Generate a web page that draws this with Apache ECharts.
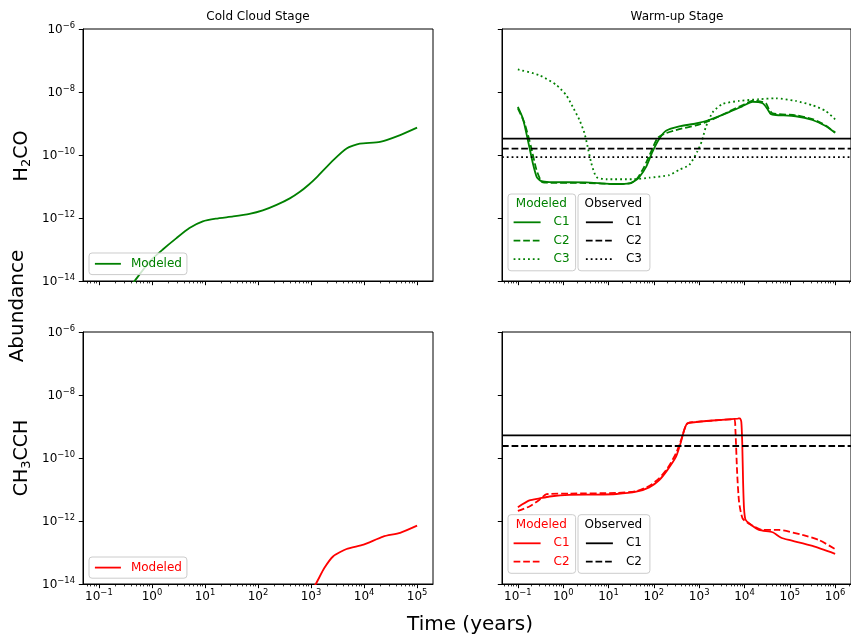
<!DOCTYPE html>
<html>
<head>
<meta charset="utf-8">
<script src="https://cdn.jsdelivr.net/npm/echarts@6/dist/echarts.min.js"></script>
<style>
html,body{margin:0;padding:0;background:#fff;}
#chart{width:851px;height:634px;}
</style>
</head>
<body>
<div id="chart"></div>
<script>
// ---- Cold cloud stage (time in years, abundance relative to H2) ----
const coldH2CO_t = [0.1, 0.25, 0.47, 0.91, 1.6, 2.9, 5.1, 9.1, 16, 34, 69, 123, 224, 398, 617, 891, 1290, 2630, 4680, 8300, 20000, 47900, 100000];
const coldH2CO_y = [2.5e-16, 2.5e-15, 1.0e-14, 4.2e-14, 1.0e-13, 2.3e-13, 4.8e-13, 7.8e-13, 9.5e-13, 1.12e-12, 1.35e-12, 1.74e-12, 2.6e-12, 4.2e-12, 6.8e-12, 1.12e-11, 2.0e-11, 6.9e-11, 1.62e-10, 2.3e-10, 2.6e-10, 4.3e-10, 7.4e-10];

const coldCH3CCH_t = [0.1, 10, 100, 631, 1230, 1780, 2630, 4680, 9800, 22900, 47900, 100000];
const coldCH3CCH_y = [1e-19, 1e-17, 3e-16, 1.6e-15, 1.0e-14, 3.2e-14, 7.6e-14, 1.29e-13, 1.78e-13, 3.2e-13, 4.2e-13, 7.1e-13];

// ---- Warm-up stage, H2CO ----
const warmH2CO_C1_t = [0.1, 0.129, 0.166, 0.214, 0.263, 0.331, 0.5, 3.16, 14.8, 28.8, 40.7, 48, 68, 93, 132, 186, 363, 851, 1660, 4570, 8900, 15100, 25100, 31600, 38000, 49000, 135000, 316000, 617000, 1000000];
const warmH2CO_C1_y = [3.4e-9, 1.45e-9, 3.0e-10, 5.5e-11, 1.95e-11, 1.48e-11, 1.38e-11, 1.35e-11, 1.2e-11, 1.26e-11, 1.62e-11, 2.0e-11, 4.3e-11, 1.26e-10, 3.3e-10, 5.9e-10, 8.1e-10, 1.0e-9, 1.29e-9, 2.3e-9, 3.5e-9, 4.9e-9, 4.4e-9, 3.0e-9, 2.0e-9, 1.86e-9, 1.7e-9, 1.29e-9, 8.3e-10, 5.1e-10];

const warmH2CO_C2_t = [0.1, 0.141, 0.195, 0.257, 0.331, 0.427, 3.16, 15.8, 31.6, 43.7, 61.7, 87, 120, 170, 363, 851, 1660, 4570, 8900, 16200, 29500, 34700, 41700, 135000, 316000, 617000, 1000000];
const warmH2CO_C2_y = [3.0e-9, 1.0e-9, 1.82e-10, 3.4e-11, 1.45e-11, 1.32e-11, 1.29e-11, 1.2e-11, 1.29e-11, 1.86e-11, 4.3e-11, 1.29e-10, 3.4e-10, 4.7e-10, 6.6e-10, 8.7e-10, 1.2e-9, 2.4e-9, 3.8e-9, 5.4e-9, 4.4e-9, 2.8e-9, 2.1e-9, 1.82e-9, 1.38e-9, 8.7e-10, 5.2e-10];

const warmH2CO_C3_t = [0.1, 0.30, 0.71, 1.17, 1.62, 2.29, 2.95, 3.47, 4.17, 5.4, 8.9, 34, 79, 219, 363, 603, 912, 1150, 1410, 2000, 3310, 7600, 20900, 49000, 135000, 316000, 617000, 1000000];
const warmH2CO_C3_y = [5.2e-8, 3.4e-8, 1.66e-8, 7.9e-9, 3.4e-9, 1.29e-9, 4.9e-10, 1.82e-10, 5.5e-11, 2.0e-11, 1.7e-11, 1.7e-11, 1.9e-11, 2.3e-11, 3.4e-11, 4.8e-11, 1.29e-10, 2.8e-10, 7.9e-10, 2.3e-9, 4.2e-9, 5.2e-9, 5.9e-9, 6.3e-9, 5.2e-9, 3.8e-9, 2.5e-9, 1.35e-9];

const obsH2CO = [3.3e-10, 1.6e-10, 8.5e-11];   // C1, C2, C3

// ---- Warm-up stage, CH3CCH ----
const warmCH3CCH_C1_t = [0.1, 0.18, 0.30, 0.5, 1.38, 5.4, 14.8, 41, 79, 132, 200, 309, 398, 468, 550, 851, 2000, 7080, 7940, 8510, 8910, 9330, 9770, 10500, 12600, 20900, 41700, 63000, 95500, 316000, 1000000];
const warmCH3CCH_C1_y = [2.75e-12, 4.5e-12, 5.2e-12, 6.0e-12, 6.8e-12, 6.9e-12, 7.2e-12, 8.5e-12, 1.17e-11, 2.0e-11, 4.2e-11, 1.1e-10, 3.3e-10, 7.8e-10, 1.26e-9, 1.38e-9, 1.55e-9, 1.78e-9, 1.82e-9, 1.41e-9, 3.2e-10, 1.6e-11, 2.5e-12, 1.12e-12, 8.5e-13, 5.2e-13, 4.4e-13, 3.0e-13, 2.5e-13, 1.62e-13, 9.1e-14];

const warmCH3CCH_C2_t = [0.1, 0.18, 0.30, 0.43, 1.38, 14.8, 41, 79, 132, 200, 309, 398, 513, 603, 2000, 5900, 6300, 6900, 7600, 9100, 13800, 25100, 57500, 191000, 437000, 1000000];
const warmCH3CCH_C2_y = [2.1e-12, 2.9e-12, 4.7e-12, 7.1e-12, 7.4e-12, 7.8e-12, 8.9e-12, 1.29e-11, 2.3e-11, 4.7e-11, 1.41e-10, 3.7e-10, 1.1e-9, 1.32e-9, 1.55e-9, 1.7e-9, 7.9e-10, 3.2e-11, 4.0e-12, 1.2e-12, 7.6e-13, 5.2e-13, 5.2e-13, 3.6e-13, 2.5e-13, 1.29e-13];

const obsCH3CCH = [5.2e-10, 2.4e-10];   // C1, C2

// Tick positions
const yMajor = [1e-14, 1e-12, 1e-10, 1e-8, 1e-6];
const xMajorCold = [0.1, 1, 10, 100, 1000, 10000, 100000];
const xMajorWarm = [0.1, 1, 10, 100, 1000, 10000, 100000, 1000000];

// ---- styling / layout ----
const FONT = 'DejaVu Sans';
const GREEN = '#008000';
const RED = '#ff0000';
const LW = 1.8;
const DASH = [6.7, 2.9];
const DOT = [1.8, 3.0];
const X_COLD = [Math.pow(10, -1.3), Math.pow(10, 5.3)];
const X_WARM = [Math.pow(10, -1.35), Math.pow(10, 6.35)];
const Y_RANGE = [1e-14, 1e-6];

function minorTicks(range) {
  const out = [];
  for (let e = -3; e <= 7; e++) {
    for (let m = 2; m <= 9; m++) {
      const v = m * Math.pow(10, e);
      if (v >= range[0] && v <= range[1]) out.push(v);
    }
  }
  return out;
}

function powLabel(v) {
  const e = Math.round(Math.log10(v));
  return '{b|10}{s|' + (e < 0 ? '\u2212' : '') + Math.abs(e) + '}';
}
const tickRich = {
  b: { fontFamily: FONT, fontSize: 12, color: '#000', lineHeight: 14, verticalAlign: 'bottom' },
  s: { fontFamily: FONT, fontSize: 8.4, color: '#000', lineHeight: 6, verticalAlign: 'top' }
};

const grids = [
  { left: 83, top: 29, width: 350, height: 252 },
  { left: 502, top: 29, width: 350, height: 252 },
  { left: 83, top: 332, width: 350, height: 252 },
  { left: 502, top: 332, width: 350, height: 252 }
].map(g => Object.assign(g, { show: true, borderColor: '#000', borderWidth: 1, backgroundColor: 'transparent' }));

const panelX = [
  { range: X_COLD, major: xMajorCold, labels: false },
  { range: X_WARM, major: xMajorWarm, labels: false },
  { range: X_COLD, major: xMajorCold, labels: true },
  { range: X_WARM, major: xMajorWarm, labels: true }
];

const xAxes = [];
panelX.forEach((p, i) => {
  xAxes.push({
    type: 'log', logBase: 10, gridIndex: i, position: 'bottom',
    min: p.range[0], max: p.range[1],
    axisLine: { show: true, onZero: false, lineStyle: { color: '#000', width: 1 } },
    axisTick: { show: true, length: 4.2, customValues: p.major, lineStyle: { color: '#000', width: 1 } },
    axisLabel: { show: p.labels, customValues: p.major, formatter: powLabel, rich: tickRich, margin: 5 },
    splitLine: { show: false }, minorTick: { show: false }
  });
  xAxes.push({
    type: 'log', logBase: 10, gridIndex: i, position: 'bottom',
    min: p.range[0], max: p.range[1],
    axisLine: { show: false, onZero: false },
    axisTick: { show: true, length: 2.4, customValues: minorTicks(p.range), lineStyle: { color: '#000', width: 0.8 } },
    axisLabel: { show: false },
    splitLine: { show: false }
  });
});

const yAxes = [0, 1, 2, 3].map(i => ({
  type: 'log', logBase: 10, gridIndex: i, position: 'left',
  min: Y_RANGE[0], max: Y_RANGE[1],
  axisLine: { show: true, onZero: false, lineStyle: { color: '#000', width: 1 } },
  axisTick: { show: true, length: 4.2, customValues: yMajor, lineStyle: { color: '#000', width: 1 } },
  axisLabel: { show: i % 2 === 0, customValues: yMajor, formatter: powLabel, rich: tickRich, margin: 8 },
  splitLine: { show: false }
}));

function pairs(ts, ys) { return ts.map((t, k) => [t, ys[k]]); }

function curve(name, panel, ts, ys, color, type) {
  return {
    type: 'line', name: name, xAxisIndex: panel * 2, yAxisIndex: panel,
    data: pairs(ts, ys), symbol: 'none', showSymbol: false, smooth: 0.2,
    clip: true, color: color,
    lineStyle: { color: color, width: LW, type: type },
    emphasis: { disabled: true }, animation: false
  };
}
function hline(name, panel, value, range, type) {
  return {
    type: 'line', name: name, xAxisIndex: panel * 2, yAxisIndex: panel,
    data: [[range[0], value], [range[1], value]], symbol: 'none', showSymbol: false,
    clip: true, color: '#000',
    lineStyle: { color: '#000', width: LW, type: type },
    emphasis: { disabled: true }, animation: false
  };
}

const labels = {};
function reg(name, text) { labels[name] = text; return name; }

const series = [
  curve(reg('cold-h2co', 'Modeled'), 0, coldH2CO_t, coldH2CO_y, GREEN, 'solid'),
  curve(reg('warm-h2co-m1', 'C1'), 1, warmH2CO_C1_t, warmH2CO_C1_y, GREEN, 'solid'),
  curve(reg('warm-h2co-m2', 'C2'), 1, warmH2CO_C2_t, warmH2CO_C2_y, GREEN, DASH),
  curve(reg('warm-h2co-m3', 'C3'), 1, warmH2CO_C3_t, warmH2CO_C3_y, GREEN, DOT),
  hline(reg('warm-h2co-o1', 'C1'), 1, obsH2CO[0], X_WARM, 'solid'),
  hline(reg('warm-h2co-o2', 'C2'), 1, obsH2CO[1], X_WARM, DASH),
  hline(reg('warm-h2co-o3', 'C3'), 1, obsH2CO[2], X_WARM, DOT),
  curve(reg('cold-ch3cch', 'Modeled'), 2, coldCH3CCH_t, coldCH3CCH_y, RED, 'solid'),
  curve(reg('warm-ch3cch-m1', 'C1'), 3, warmCH3CCH_C1_t, warmCH3CCH_C1_y, RED, 'solid'),
  curve(reg('warm-ch3cch-m2', 'C2'), 3, warmCH3CCH_C2_t, warmCH3CCH_C2_y, RED, DASH),
  hline(reg('warm-ch3cch-o1', 'C1'), 3, obsCH3CCH[0], X_WARM, 'solid'),
  hline(reg('warm-ch3cch-o2', 'C2'), 3, obsCH3CCH[1], X_WARM, DASH)
];

function legendItem(name, color, type) {
  return {
    name: name,
    textStyle: { color: color },
    lineStyle: { color: color, width: LW, type: type, opacity: 1 },
    itemStyle: { opacity: 0 }
  };
}
function legendBox(left, top, items, padding, textPad, itemWidth) {
  return {
    orient: 'vertical', left: left, top: top, data: items,
    padding: padding, itemWidth: itemWidth, itemHeight: 14, itemGap: 4.4,
    selectedMode: false, formatter: n => labels[n],
    borderColor: '#cccccc', borderWidth: 1, borderRadius: 3,
    backgroundColor: 'rgba(255,255,255,0.8)',
    itemStyle: { opacity: 0 },
    textStyle: { fontFamily: FONT, fontSize: 12, lineHeight: 14, padding: [0, 0, 0, textPad] },
    z: 10
  };
}

const legends = [
  legendBox(89, 253, [legendItem('cold-h2co', GREEN, 'solid')], [3.8, 5, 3.8, 5], 5, 26),
  legendBox(89, 557, [legendItem('cold-ch3cch', RED, 'solid')], [3.6, 5, 3.6, 5], 5, 26),
  legendBox(508, 194, [
    legendItem('warm-h2co-m1', GREEN, 'solid'),
    legendItem('warm-h2co-m2', GREEN, DASH),
    legendItem('warm-h2co-m3', GREEN, DOT)
  ], [21.3, 6, 4.7, 4.7], 8, 27),
  legendBox(578, 194, [
    legendItem('warm-h2co-o1', '#000', 'solid'),
    legendItem('warm-h2co-o2', '#000', DASH),
    legendItem('warm-h2co-o3', '#000', DOT)
  ], [21.3, 8, 4.7, 7], 8, 27),
  legendBox(508, 514.7, [
    legendItem('warm-ch3cch-m1', RED, 'solid'),
    legendItem('warm-ch3cch-m2', RED, DASH)
  ], [21.6, 6, 4.6, 4.7], 8, 27),
  legendBox(578, 514.7, [
    legendItem('warm-ch3cch-o1', '#000', 'solid'),
    legendItem('warm-ch3cch-o2', '#000', DASH)
  ], [21.6, 8, 4.6, 7], 8, 27)
];

function txt(x, y, text, size, color, rotation, rich) {
  const el = {
    type: 'text', x: x, y: y, z: 100, silent: true,
    style: { text: text, fontFamily: FONT, fontSize: size, fill: color || '#000', align: 'center', verticalAlign: 'middle' }
  };
  if (rotation) el.rotation = rotation;
  if (rich) el.style.rich = rich;
  return el;
}
const subRich = {
  b: { fontFamily: FONT, fontSize: 19, fill: '#000', lineHeight: 20, verticalAlign: 'top' },
  u: { fontFamily: FONT, fontSize: 13, fill: '#000', lineHeight: 12, verticalAlign: 'bottom' }
};

const graphics = [
  txt(258, 16.5, 'Cold Cloud Stage', 12),
  txt(677, 16.5, 'Warm-up Stage', 12),
  txt(470, 625, 'Time (years)', 20),
  txt(18, 306, 'Abundance', 20, '#000', Math.PI / 2),
  txt(23, 156, '{b|H}{u|2}{b|CO}', 19, '#000', Math.PI / 2, subRich),
  txt(23, 458, '{b|CH}{u|3}{b|CCH}', 19, '#000', Math.PI / 2, subRich),
  txt(541.3, 204, 'Modeled', 12, GREEN),
  txt(613.3, 204, 'Observed', 12, '#000'),
  txt(541.3, 525, 'Modeled', 12, RED),
  txt(613.3, 525, 'Observed', 12, '#000')
];

const chart = echarts.init(document.getElementById('chart'), null, { renderer: 'canvas' });
chart.setOption({
  animation: false,
  backgroundColor: '#ffffff',
  grid: grids,
  xAxis: xAxes,
  yAxis: yAxes,
  legend: legends,
  series: series,
  graphic: graphics
});
</script>
</body>
</html>
